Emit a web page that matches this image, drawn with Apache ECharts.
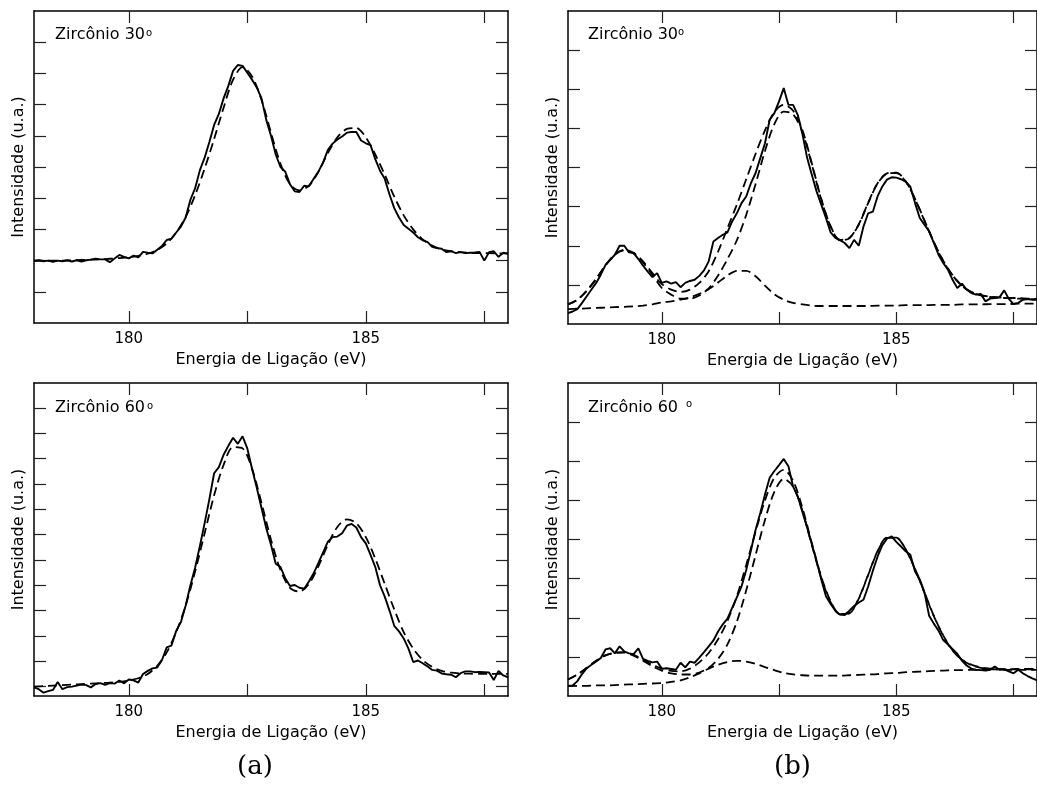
<!DOCTYPE html>
<html><head><meta charset="utf-8">
<script src="https://cdn.jsdelivr.net/npm/echarts@6/dist/echarts.min.js"></script>
<style>html,body{margin:0;padding:0;background:#fff}#c{width:1037px;height:791px}</style>
</head><body><div id="c"></div>
<script>
// Binding energy grids (eV)
const energyFine = [178.0,178.1,178.2,178.3,178.4,178.5,178.6,178.7,178.8,178.9,
179.0,179.1,179.2,179.3,179.4,179.5,179.6,179.7,179.8,179.9,
180.0,180.1,180.2,180.3,180.4,180.5,180.6,180.7,180.8,180.9,
181.0,181.1,181.2,181.3,181.4,181.5,181.6,181.7,181.8,181.9,
182.0,182.1,182.2,182.3,182.4,182.5,182.6,182.7,182.8,182.9,
183.0,183.1,183.2,183.3,183.4,183.5,183.6,183.7,183.8,183.9,
184.0,184.1,184.2,184.3,184.4,184.5,184.6,184.7,184.8,184.9,
185.0,185.1,185.2,185.3,185.4,185.5,185.6,185.7,185.8,185.9,
186.0,186.1,186.2,186.3,186.4,186.5,186.6,186.7,186.8,186.9,
187.0,187.1,187.2,187.3,187.4,187.5,187.6,187.7,187.8,187.9,188.0];
const energyFit = [178.0,178.2,178.4,178.6,178.8,179.0,179.2,179.4,179.6,179.8,
180.0,180.2,180.4,180.6,180.8,181.0,181.2,181.4,181.6,181.8,
182.0,182.2,182.4,182.6,182.8,183.0,183.2,183.4,183.6,183.8,
184.0,184.2,184.4,184.6,184.8,185.0,185.2,185.4,185.6,185.8,
186.0,186.2,186.4,186.6,186.8,187.0,187.2,187.4,187.6,187.8,188.0];

const xTickValues = [180, 182.5, 185, 187.5];
const xTickLabels = [180, 185];

// (a) Zircônio 30°
const zr30aData = [2.00,2.01,1.98,2.00,1.96,2.00,1.98,2.01,1.97,2.01,
1.97,2.01,2.03,2.06,2.04,2.04,1.95,2.07,2.18,2.12,
2.07,2.16,2.10,2.28,2.25,2.23,2.35,2.47,2.66,2.70,
2.90,3.09,3.38,3.95,4.32,4.90,5.30,5.80,6.35,6.70,
7.20,7.60,8.08,8.27,8.24,8.02,7.80,7.55,7.20,6.51,
6.00,5.40,5.00,4.85,4.45,4.22,4.20,4.40,4.38,4.62,
4.85,5.15,5.55,5.75,5.88,5.98,6.10,6.12,6.12,5.85,
5.76,5.70,5.25,4.88,4.62,4.12,3.68,3.38,3.14,3.02,
2.90,2.75,2.65,2.60,2.44,2.40,2.38,2.27,2.30,2.24,
2.27,2.24,2.25,2.26,2.28,2.00,2.27,2.30,2.12,2.25,2.22];
const zr30aFit = [1.99,2.00,2.00,2.00,2.01,2.02,2.03,2.04,2.06,2.08,
2.11,2.15,2.22,2.34,2.55,2.90,3.40,4.10,4.95,5.90,
6.90,7.80,8.20,7.90,7.15,6.10,5.10,4.45,4.25,4.40,
4.85,5.45,5.95,6.22,6.25,5.95,5.40,4.75,4.05,3.45,
3.00,2.68,2.48,2.36,2.30,2.27,2.25,2.24,2.24,2.23,2.23];

// (a) Zircônio 60°
const zr60aData = [-0.03,-0.10,-0.24,-0.18,-0.13,0.18,-0.10,-0.02,0.00,0.04,
0.08,0.06,-0.03,0.10,0.14,0.07,0.14,0.12,0.24,0.13,
0.28,0.25,0.16,0.50,0.62,0.72,0.75,1.05,1.55,1.62,
2.20,2.55,3.20,4.00,4.70,5.55,6.45,7.40,8.42,8.66,
9.15,9.50,9.82,9.58,9.88,9.40,8.60,7.85,7.05,6.25,
5.60,4.85,4.72,4.28,3.97,4.01,3.90,3.86,4.15,4.47,
4.88,5.30,5.72,5.90,5.92,6.05,6.35,6.42,6.28,5.90,
5.65,5.20,4.72,4.00,3.55,3.00,2.40,2.18,1.90,1.50,
0.97,1.03,0.92,0.80,0.66,0.63,0.52,0.49,0.47,0.37,
0.53,0.60,0.60,0.57,0.58,0.57,0.56,0.26,0.62,0.44,0.37];
const zr60aFit = [0.00,0.02,0.04,0.06,0.08,0.10,0.12,0.14,0.16,0.19,
0.24,0.33,0.50,0.82,1.35,2.15,3.20,4.55,6.05,7.55,
8.75,9.45,9.40,8.60,7.25,5.80,4.60,3.90,3.75,4.05,
4.75,5.60,6.30,6.60,6.45,5.90,5.05,4.05,3.05,2.15,
1.50,1.05,0.78,0.62,0.55,0.52,0.51,0.50,0.50,0.50,0.50];

// (b) Zircônio 30°
const zr30bData = [0.28,0.32,0.38,0.54,0.71,0.88,1.05,1.26,1.51,1.64,
1.77,2.00,2.00,1.83,1.81,1.66,1.49,1.34,1.20,1.30,
1.05,1.09,1.03,1.07,0.94,1.05,1.10,1.13,1.23,1.37,
1.60,2.11,2.20,2.28,2.34,2.62,2.83,3.09,3.26,3.60,
3.86,4.24,4.62,5.22,5.39,5.69,6.03,5.60,5.60,5.34,
4.85,4.24,3.81,3.39,3.05,2.71,2.34,2.20,2.14,2.07,
1.94,2.15,2.00,2.49,2.83,2.87,3.26,3.51,3.69,3.75,
3.74,3.70,3.64,3.51,3.09,2.71,2.54,2.37,2.07,1.77,
1.56,1.39,1.13,0.92,1.03,0.88,0.79,0.75,0.77,0.58,
0.65,0.66,0.68,0.86,0.64,0.51,0.54,0.62,0.64,0.62,0.62];
const zr30bEnvelope = [0.50,0.62,0.85,1.15,1.50,1.78,1.90,1.82,1.60,1.30,
1.02,0.88,0.82,0.88,1.05,1.35,1.85,2.45,3.05,3.70,
4.35,4.95,5.42,5.60,5.45,4.95,4.10,3.20,2.50,2.15,
2.20,2.55,3.10,3.60,3.85,3.87,3.65,3.20,2.65,2.10,
1.62,1.25,0.98,0.82,0.74,0.70,0.68,0.67,0.66,0.65,0.64];
const zr30bMain = [0.50,0.62,0.85,1.15,1.50,1.77,1.88,1.80,1.57,1.26,
0.92,0.75,0.65,0.65,0.73,0.91,1.24,1.66,2.14,2.79,
3.58,4.42,5.11,5.43,5.36,4.90,4.07,3.18,2.49,2.14,
2.19,2.54,3.09,3.59,3.84,3.86,3.64,3.19,2.64,2.09,
1.61,1.24,0.97,0.81,0.73,0.69,0.67,0.66,0.65,0.64,0.63];
const zr30bMinor = [0.38,0.39,0.40,0.41,0.42,0.43,0.44,0.45,0.47,0.50,
0.55,0.58,0.62,0.68,0.77,0.89,1.06,1.24,1.36,1.36,
1.22,0.98,0.76,0.62,0.54,0.50,0.47,0.46,0.46,0.46,
0.46,0.46,0.46,0.47,0.47,0.47,0.48,0.48,0.48,0.49,
0.49,0.49,0.50,0.50,0.50,0.51,0.51,0.51,0.52,0.52,0.52];

// (b) Zircônio 60°
const zr60bData = [0.26,0.27,0.38,0.56,0.71,0.80,0.88,0.97,1.19,1.22,
1.09,1.27,1.14,1.09,1.07,1.22,0.95,0.90,0.86,0.88,
0.70,0.71,0.69,0.67,0.85,0.73,0.88,0.85,0.98,1.12,
1.27,1.42,1.65,1.83,1.98,2.25,2.52,2.80,3.22,3.72,
4.25,4.68,5.15,5.58,5.75,5.90,6.06,5.87,5.35,5.10,
4.70,4.30,3.88,3.45,2.98,2.55,2.35,2.18,2.08,2.07,
2.18,2.30,2.39,2.46,2.80,3.20,3.56,3.85,4.02,4.08,
3.94,3.82,3.70,3.61,3.18,2.98,2.65,2.05,1.85,1.67,
1.43,1.32,1.20,1.08,0.90,0.78,0.70,0.67,0.66,0.65,
0.67,0.75,0.67,0.68,0.63,0.58,0.67,0.58,0.51,0.45,0.40];
const zr60bEnvelope = [0.42,0.55,0.72,0.90,1.04,1.11,1.12,1.05,0.93,0.80,
0.70,0.64,0.63,0.70,0.86,1.10,1.45,1.92,2.55,3.35,
4.20,5.00,5.58,5.78,5.50,4.80,3.90,3.05,2.42,2.10,
2.12,2.50,3.10,3.70,4.05,4.05,3.75,3.25,2.65,2.05,
1.55,1.17,0.93,0.80,0.73,0.70,0.69,0.68,0.68,0.68,0.68];
const zr60bMain = [0.42,0.55,0.72,0.90,1.04,1.10,1.11,1.03,0.90,0.76,
0.65,0.58,0.55,0.55,0.60,0.72,0.95,1.32,1.90,2.70,
3.60,4.50,5.22,5.55,5.35,4.72,3.85,3.02,2.40,2.09,
2.11,2.49,3.09,3.69,4.04,4.04,3.74,3.24,2.64,2.04,
1.54,1.16,0.92,0.79,0.72,0.69,0.68,0.67,0.67,0.67,0.67];
const zr60bMinor = [0.25,0.26,0.26,0.27,0.27,0.28,0.29,0.30,0.31,0.32,
0.33,0.36,0.40,0.48,0.58,0.70,0.80,0.87,0.90,0.88,
0.82,0.74,0.66,0.59,0.55,0.53,0.52,0.52,0.52,0.52,
0.53,0.54,0.55,0.56,0.58,0.59,0.61,0.62,0.63,0.64,
0.65,0.66,0.66,0.67,0.67,0.68,0.68,0.68,0.69,0.69,0.69];

const panelTitles = ['Zircônio 30', 'Zircônio 30', 'Zircônio 60', 'Zircônio 60'];
const xAxisName = 'Energia de Ligação (eV)';
const yAxisName = 'Intensidade (u.a.)';
const captions = ['(a)', '(b)'];

const FONT = 'DejaVu Sans';
const grids = [
  {left: 34, top: 11, width: 474, height: 312},
  {left: 568, top: 11, width: 473, height: 313},
  {left: 34, top: 383, width: 474, height: 313},
  {left: 568, top: 383, width: 473, height: 313}
];
const yRanges = [
  {min: 0, max: 10, ticks: [1,2,3,4,5,6,7,8,9]},
  {min: 0, max: 8, ticks: [1,2,3,4,5,6,7]},
  {min: -0.37, max: 11.98, ticks: [0,1,2,3,4,5,6,7,8,9,10,11]},
  {min: 0, max: 8, ticks: [1,2,3,4,5,6,7]}
];

const tickStyle = {inside: true, length: 12, lineStyle: {color: '#222', width: 1.2}};
const lineAx = {onZero: false, lineStyle: {color: '#000', width: 1.5}};
const xAxes = [], yAxes = [];
grids.forEach((g, i) => {
  xAxes.push({gridIndex: i, type: 'value', position: 'bottom', min: 178, max: 188,
    axisLine: lineAx, splitLine: {show: false},
    axisTick: Object.assign({customValues: xTickValues}, tickStyle),
    axisLabel: {customValues: xTickLabels, margin: 9, fontSize: 15, fontFamily: FONT, color: '#000'},
    name: xAxisName, nameLocation: 'middle', nameGap: 29,
    nameTextStyle: {fontSize: 16, fontFamily: FONT, color: '#000'}});
  xAxes.push({gridIndex: i, type: 'value', position: 'top', min: 178, max: 188,
    axisLine: lineAx, splitLine: {show: false},
    axisTick: Object.assign({customValues: xTickValues}, tickStyle),
    axisLabel: {show: false}});
  const r = yRanges[i];
  yAxes.push({gridIndex: i, type: 'value', position: 'left', min: r.min, max: r.max,
    axisLine: lineAx, splitLine: {show: false},
    axisTick: Object.assign({customValues: r.ticks}, tickStyle),
    axisLabel: {show: false},
    name: yAxisName, nameLocation: 'middle', nameGap: 7, nameRotate: 90,
    nameTextStyle: {fontSize: 16, fontFamily: FONT, color: '#000'}});
  yAxes.push({gridIndex: i, type: 'value', position: 'right', min: r.min, max: r.max,
    axisLine: lineAx, splitLine: {show: false},
    axisTick: Object.assign({customValues: r.ticks}, tickStyle),
    axisLabel: {show: false}});
});

function pairs(xs, ys) { return xs.map((x, k) => [x, ys[k]]); }
function solid(i, ys) {
  return {type: 'line', xAxisIndex: 2*i, yAxisIndex: 2*i, data: pairs(energyFine, ys),
    symbol: 'none', silent: true, lineStyle: {color: '#000', width: 1.9}, z: 3};
}
function dashed(i, ys) {
  return {type: 'line', xAxisIndex: 2*i, yAxisIndex: 2*i, data: pairs(energyFit, ys),
    symbol: 'none', silent: true, smooth: 0.3,
    lineStyle: {color: '#000', width: 1.8, type: [9, 5]}, z: 2};
}

const series = [
  solid(0, zr30aData), dashed(0, zr30aFit),
  solid(1, zr30bData), dashed(1, zr30bEnvelope), dashed(1, zr30bMain), dashed(1, zr30bMinor),
  solid(2, zr60aData), dashed(2, zr60aFit),
  solid(3, zr60bData), dashed(3, zr60bEnvelope), dashed(3, zr60bMain), dashed(3, zr60bMinor)
];

const titleFont = '16px "DejaVu Sans"';
const supFont = '10px "DejaVu Sans"';
const graphic = [
  {type: 'text', left: 55, top: 27, style: {text: panelTitles[0], font: titleFont, fill: '#000'}},
  {type: 'text', left: 146, top: 28, style: {text: 'o', font: supFont, fill: '#000'}},
  {type: 'text', left: 588, top: 27, style: {text: panelTitles[1], font: titleFont, fill: '#000'}},
  {type: 'text', left: 678, top: 27, style: {text: 'o', font: supFont, fill: '#000'}},
  {type: 'text', left: 55, top: 400, style: {text: panelTitles[2], font: titleFont, fill: '#000'}},
  {type: 'text', left: 147, top: 401, style: {text: 'o', font: supFont, fill: '#000'}},
  {type: 'text', left: 588, top: 400, style: {text: panelTitles[3], font: titleFont, fill: '#000'}},
  {type: 'text', left: 686, top: 399, style: {text: 'o', font: supFont, fill: '#000'}},
  {type: 'text', left: 237, top: 754, style: {text: captions[0], font: '26px "DejaVu Serif"', fill: '#000'}},
  {type: 'text', left: 774, top: 754, style: {text: captions[1], font: '26px "DejaVu Serif"', fill: '#000'}}
];

const chart = echarts.init(document.getElementById('c'), null, {renderer: 'canvas'});
chart.setOption({
  animation: false,
  backgroundColor: '#fff',
  grid: grids,
  xAxis: xAxes,
  yAxis: yAxes,
  series: series,
  graphic: graphic
});
</script>
</body></html>
